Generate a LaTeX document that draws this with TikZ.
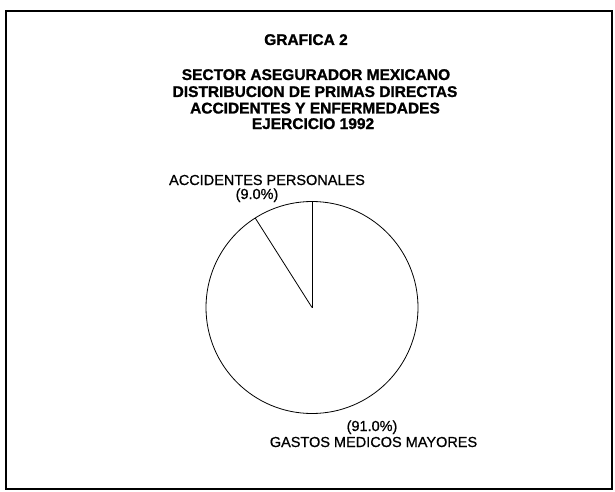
\documentclass[tikz,border=0pt]{standalone}
\usepackage{fontspec}
\setmainfont{Liberation Sans}
\newfontfamily\fuentetitulo{Liberation Sans Bold}[FakeBold=1.2]
\newfontfamily\fuenteetiqueta{Liberation Sans}[FakeBold=0.8]
\tikzset{
    titulo/.style={anchor=base,inner sep=0pt,font=\fontsize{15.5}{17}\fuentetitulo},
    etiqueta/.style={anchor=base,inner sep=0pt,font=\fontsize{14.5}{16}\fuenteetiqueta}
}
\begin{document}
\begin{tikzpicture}[x=1pt,y=-1pt]
            \useasboundingbox (0,0) rectangle (615,492);
            \draw[line width=1.6pt] (6,11) rectangle (612,489);
            \node[titulo] (graf) at (306,45){GRAFICA 2};
            \node[titulo] (tit1) at (316,80){SECTOR ASEGURADOR MEXICANO};
            \node[titulo] (tit2) at (315,97){DISTRIBUCION DE PRIMAS DIRECTAS};
            \node[titulo] (tit3) at (315,113.5){ACCIDENTES Y ENFERMEDADES};
            \node[titulo] (tit4) at (313,129){EJERCICIO 1992};
            \coordinate (O) at (312,307.5);
            \draw[line width=0.8pt] (O) circle(106);
            \draw[line width=0.8pt] (O)--++(-90:106) coordinate (A);
            \draw[line width=0.8pt] (O)--++(-122.4:106) coordinate (B);
            \node[etiqueta] (ap) at (267,185){ACCIDENTES PERSONALES};
            \node[etiqueta] (app) at (257,199){(9.0\%)};
            \node[etiqueta] (gmp) at (372,431){(91.0\%)};
            \node[etiqueta] (gm) at (373.5,447){GASTOS MEDICOS MAYORES};
        \end{tikzpicture}
\end{document}
